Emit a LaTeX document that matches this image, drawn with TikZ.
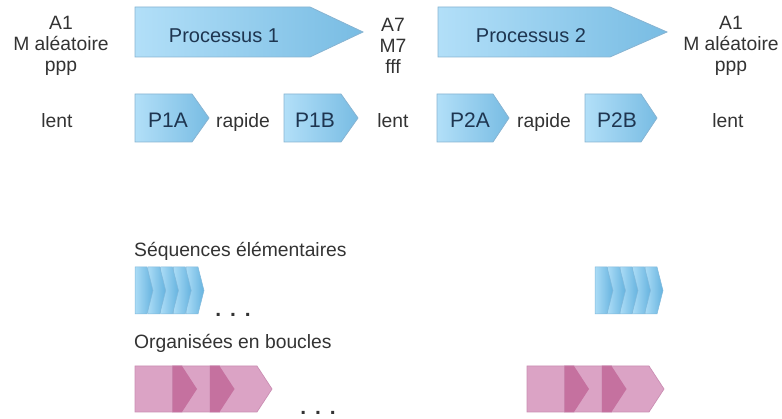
\documentclass[tikz,border=0pt]{standalone}
\usepackage{fontspec}
\setmainfont{Liberation Sans}
\definecolor{procL}{HTML}{B2DFF8}
\definecolor{procR}{HTML}{78BCE3}
\definecolor{procBorder}{HTML}{88B4D2}
\definecolor{stackL}{HTML}{ABDCF6}
\definecolor{stackR}{HTML}{66B3DF}
\definecolor{stackBorder}{HTML}{82B9DB}
\definecolor{pinkLight}{HTML}{DBA3C5}
\definecolor{pinkDark}{HTML}{C5719F}
\definecolor{pinkBorder}{HTML}{CA8EB3}
\definecolor{labelText}{HTML}{333333}
\definecolor{boxText}{HTML}{1E3550}
% pentagon arrow: left x, shoulder x, tip x, top y, bottom y
\newcommand\chevpath[5]{(#1,#4) -- (#2,#4) -- (#3,{(#4+#5)/2}) -- (#2,#5) -- (#1,#5) -- cycle}
\begin{document}
\begin{tikzpicture}[x=1pt,y=-1pt,
  lbl/.style={text=labelText, font=\fontsize{19.3}{20.8}\selectfont, inner sep=0pt},
  boxlbl/.style={text=boxText, font=\fontsize{20}{24}\selectfont, inner sep=0pt},
  smallbox/.style={text=boxText, font=\fontsize{21}{24}\selectfont, inner sep=0pt},
  dots/.style={text=labelText, font=\fontsize{21}{24}\selectfont\bfseries, inner sep=0pt},
  proc/.style={left color=procL, right color=procR, draw=procBorder, line width=0.8pt},
  stackarrow/.style={left color=stackL, right color=stackR, draw=stackBorder, line width=0.5pt},
  loopfill/.style={fill=pinkLight, draw=pinkBorder, line width=0.7pt},
  loopdark/.style={fill=pinkDark},
  ]
\useasboundingbox (0,0) rectangle (782,419);

% main processes
\path[proc] \chevpath{135}{310}{363}{7}{57};
\path[proc] \chevpath{438}{610}{667}{7}{57};
\node[boxlbl, anchor=base] (proc1) at (224,42.5) {Processus 1};
\node[boxlbl, anchor=base] (proc2) at (531,42.5) {Processus 2};

% sub-steps
\path[proc] \chevpath{135}{192}{209}{94}{142};
\path[proc] \chevpath{284}{341}{358}{94}{142};
\path[proc] \chevpath{437}{493}{509}{94}{142};
\path[proc] \chevpath{585}{641}{657}{94}{142};
\node[smallbox, anchor=base] (p1a) at (168,127.5) {P1A};
\node[smallbox, anchor=base] (p1b) at (315,127.5) {P1B};
\node[smallbox, anchor=base] (p2a) at (470,127.5) {P2A};
\node[smallbox, anchor=base] (p2b) at (617,127.5) {P2B};

% states between processes
\node[lbl, align=center] (s0) at (61,46) {A1\\M aléatoire\\ppp};
\node[lbl, align=center] (s1) at (393,46) {A7\\M7\\fff};
\node[lbl, align=center] (s2) at (731,46) {A1\\M aléatoire\\ppp};

\node[lbl, anchor=base] (l0) at (57,128) {lent};
\node[lbl, anchor=base] (r1) at (243,128) {rapide};
\node[lbl, anchor=base] (l1) at (393,128) {lent};
\node[lbl, anchor=base] (r2) at (544,128) {rapide};
\node[lbl, anchor=base] (l2) at (728,128) {lent};

% elementary sequences
\node[lbl, anchor=base west] (seq) at (134,257) {Séquences élémentaires};
\foreach \i in {4,3,2,1,0} {
  \path[stackarrow] \chevpath{135+12.75*\i}{147+12.75*\i}{153+12.75*\i}{267}{314};
  \path[stackarrow] \chevpath{595+12.5*\i}{607+12.5*\i}{613+12.5*\i}{267}{314};
}
\node[dots, anchor=base] (d1) at (233,317) {.\hspace{9pt}.\hspace{9pt}.};

% loops
\node[lbl, anchor=base west] (loops) at (134,349) {Organisées en boucles};
\foreach \s in {135,527} {
  \foreach \k in {0,1,2} {
    \path[loopfill] \chevpath{\s+37.5*\k}{\s+37.5*\k+47}{\s+37.5*\k+62}{366}{412};
  }
  \foreach \k in {0,1} {
    \begin{scope}
      \clip \chevpath{\s+37.5*\k+37.5}{\s+37.5*\k+84.5}{\s+37.5*\k+99.5}{366}{412};
      \path[loopdark] \chevpath{\s+37.5*\k}{\s+37.5*\k+47}{\s+37.5*\k+62}{366}{412};
    \end{scope}
  }
}
\node[dots, anchor=base] (d2) at (318,415) {.\hspace{9pt}.\hspace{9pt}.};
\end{tikzpicture}
\end{document}
